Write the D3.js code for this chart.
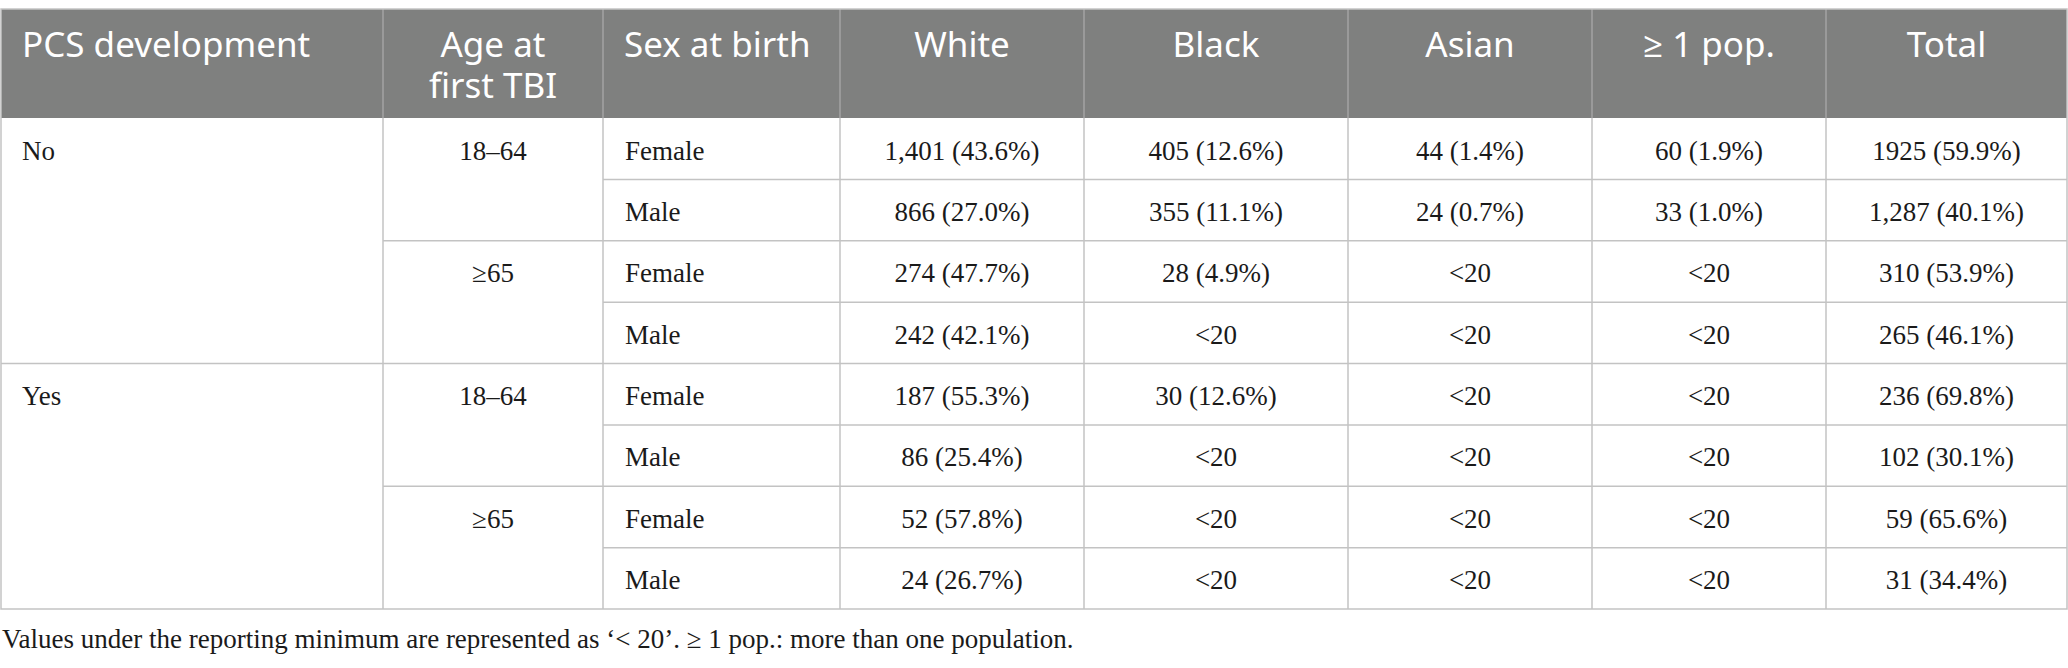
<!DOCTYPE html>
<html>
<head>
<meta charset="utf-8">
<script src="https://cdn.jsdelivr.net/npm/d3@7"></script>
<style>
  html, body { margin: 0; padding: 0; background: #fff; }
</style>
</head>
<body>
<div id="chart"></div>
<script>
// данные таблицы
const headers = [["PCS development"], ["Age at", "first TBI"], ["Sex at birth"], ["White"], ["Black"], ["Asian"], ["\u2265 1 pop."], ["Total"]];
const pcsGroups = ["No", "Yes"];
const ageGroups = ["18\u201364", "\u226565"];
const sexes = ["Female", "Male"];

const white = ["1,401 (43.6%)", "866 (27.0%)", "274 (47.7%)", "242 (42.1%)", "187 (55.3%)", "86 (25.4%)", "52 (57.8%)", "24 (26.7%)"];
const black = ["405 (12.6%)", "355 (11.1%)", "28 (4.9%)", "<20", "30 (12.6%)", "<20", "<20", "<20"];
const asian = ["44 (1.4%)", "24 (0.7%)", "<20", "<20", "<20", "<20", "<20", "<20"];
const multi = ["60 (1.9%)", "33 (1.0%)", "<20", "<20", "<20", "<20", "<20", "<20"];
const total = ["1925 (59.9%)", "1,287 (40.1%)", "310 (53.9%)", "265 (46.1%)", "236 (69.8%)", "102 (30.1%)", "59 (65.6%)", "31 (34.4%)"];

const footnote = "Values under the reporting minimum are represented as \u2018< 20\u2019. \u2265 1 pop.: more than one population.";

// разметка
const width = 2068, height = 668;
const colEdges = [1, 383, 603, 840, 1084, 1348, 1592, 1826, 2067];
const tableTop = 9, headBottom = 118, tableBottom = 609;
const serif = "'Liberation Serif', 'Times New Roman', serif";
const sans = "'Noto Sans', 'Open Sans', sans-serif";
const lineColor = "#c3c3c3";

const svg = d3.select("#chart").append("svg")
  .attr("width", width)
  .attr("height", height);

const y = d3.scaleBand()
  .domain(d3.range(white.length))
  .range([headBottom, tableBottom]);

const colX = i => colEdges[i];
const colMid = i => (colEdges[i] + colEdges[i + 1]) / 2;

// шапка
svg.append("rect")
  .attr("x", colEdges[0])
  .attr("y", tableTop)
  .attr("width", colEdges[8] - colEdges[0])
  .attr("height", headBottom - tableTop)
  .attr("fill", "#7f807f");

svg.selectAll("line.hsep")
  .data(colEdges.slice(1, -1))
  .join("line")
  .attr("class", "hsep")
  .attr("x1", d => d).attr("x2", d => d)
  .attr("y1", tableTop).attr("y2", headBottom)
  .attr("stroke", "#a3a3a3")
  .attr("stroke-width", 1.5);

const headAlign = ["start", "middle", "start", "middle", "middle", "middle", "middle", "middle"];

// каждая строка заголовка - отдельный text
const headLines = headers.flatMap((lines, c) => lines.map((t, k) => ({ t, c, k })));

svg.selectAll("text.head")
  .data(headLines)
  .join("text")
  .attr("class", "head")
  .attr("x", d => headAlign[d.c] === "start" ? colX(d.c) + 21 : colMid(d.c))
  .attr("y", d => 57 + d.k * 41)
  .attr("text-anchor", d => headAlign[d.c])
  .attr("fill", "#fff")
  .style("font-family", sans)
  .style("font-size", "35px")
  .text(d => d.t);

// строки тела
const rows = white.map((w, i) => ({
  i,
  pcs: i % 4 === 0 ? pcsGroups[i / 4] : null,
  age: i % 2 === 0 ? ageGroups[(i / 2) % 2] : null,
  sex: sexes[i % 2],
  vals: [w, black[i], asian[i], multi[i], total[i]]
}));

const body = svg.append("g")
  .style("font-family", serif)
  .style("font-size", "27px")
  .attr("fill", "#1a1a1a");

const textY = i => y(i) + 41.5;

body.selectAll("text.pcs")
  .data(rows.filter(d => d.pcs))
  .join("text")
  .attr("class", "pcs")
  .attr("x", colX(0) + 21)
  .attr("y", d => textY(d.i))
  .text(d => d.pcs);

body.selectAll("text.age")
  .data(rows.filter(d => d.age))
  .join("text")
  .attr("class", "age")
  .attr("x", colMid(1))
  .attr("text-anchor", "middle")
  .attr("y", d => textY(d.i))
  .text(d => d.age);

body.selectAll("text.sex")
  .data(rows)
  .join("text")
  .attr("class", "sex")
  .attr("x", colX(2) + 22)
  .attr("y", d => textY(d.i))
  .text(d => d.sex);

body.selectAll("g.vals")
  .data(rows)
  .join("g")
  .attr("class", "vals")
  .selectAll("text")
  .data(d => d.vals.map((v, k) => ({ v, k, i: d.i })))
  .join("text")
  .attr("x", d => colMid(d.k + 3))
  .attr("y", d => textY(d.i))
  .attr("text-anchor", "middle")
  .text(d => d.v);

// линии сетки
const grid = svg.append("g")
  .attr("stroke", lineColor)
  .attr("stroke-width", 1.5);

grid.selectAll("line.v")
  .data(colEdges.slice(1, -1))
  .join("line")
  .attr("class", "v")
  .attr("x1", d => d).attr("x2", d => d)
  .attr("y1", headBottom).attr("y2", tableBottom);

const rowLines = d3.range(1, white.length).map(i => ({
  y: y(i),
  x1: i % 4 === 0 ? colEdges[0] : (i % 2 === 0 ? colEdges[1] : colEdges[2])
}));

grid.selectAll("line.h")
  .data(rowLines)
  .join("line")
  .attr("class", "h")
  .attr("x1", d => d.x1).attr("x2", colEdges[8])
  .attr("y1", d => d.y).attr("y2", d => d.y);

grid.append("rect")
  .attr("x", colEdges[0])
  .attr("y", tableTop)
  .attr("width", colEdges[8] - colEdges[0])
  .attr("height", tableBottom - tableTop)
  .attr("fill", "none");

// примечание
svg.append("text")
  .attr("x", 2)
  .attr("y", 648)
  .style("font-family", serif)
  .style("font-size", "27px")
  .attr("fill", "#1a1a1a")
  .text(footnote);
</script>
</body>
</html>
